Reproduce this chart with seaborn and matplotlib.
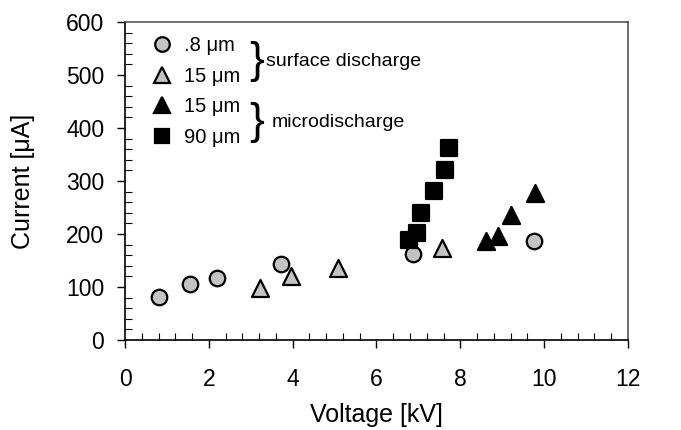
import numpy as np
import pandas as pd
import seaborn as sns
from matplotlib import pyplot as plt
from matplotlib.lines import Line2D
from matplotlib.ticker import MultipleLocator

sns.set_style('ticks')
plt.rcParams['font.family'] = ['Liberation Sans', 'DejaVu Sans']
plt.rcParams['text.color'] = 'black'
plt.rcParams['axes.labelcolor'] = 'black'

# surface discharge, .8 um
v_08 = [0.82, 1.55, 2.19, 3.72, 6.88, 9.77]
i_08 = [82, 106, 117, 144, 163, 186]
# surface discharge, 15 um
v_15s = [3.21, 3.96, 5.09, 7.57]
i_15s = [98, 120, 136, 174]
# microdischarge, 15 um
v_15m = [8.62, 8.89, 9.20, 9.79]
i_15m = [186, 197, 235, 278]
# microdischarge, 90 um
v_90 = [6.77, 6.96, 7.06, 7.37, 7.64, 7.74]
i_90 = [189, 202, 240, 282, 320, 363]

labels = ['.8 \u03bcm', '15 \u03bcm', '15 \u03bcm', '90 \u03bcm']
gray = '#c3c3c3'

fig = plt.figure(figsize=(6.81, 4.30), dpi=100)
ax = fig.add_axes([0.1836, 0.2093, 0.7384, 0.7395])

series = [
    (v_08, i_08, 'o', gray, 125),
    (v_15s, i_15s, '^', gray, 150),
    (v_15m, i_15m, '^', 'black', 150),
    (v_90, i_90, 's', 'black', 120),
]
for x, y, m, c, s in series:
    sns.scatterplot(x=x, y=y, marker=m, color=c, edgecolor='black',
                    linewidth=1.6, s=s, ax=ax, zorder=3)

ax.set_xlim(0, 12)
ax.set_ylim(0, 600)
ax.xaxis.set_major_locator(MultipleLocator(2))
ax.xaxis.set_minor_locator(MultipleLocator(0.4))
ax.yaxis.set_major_locator(MultipleLocator(100))
ax.yaxis.set_minor_locator(MultipleLocator(20))
ax.tick_params(which='major', direction='out', length=6, width=1, labelsize=16.5,
               colors='black', labelcolor='black')
ax.tick_params(axis='x', which='major', pad=14)
ax.tick_params(axis='y', which='major', pad=9)
ax.tick_params(which='minor', direction='in', length=5, width=0.8, colors='black')
for sp in ax.spines.values():
    sp.set_color('#555555')
    sp.set_linewidth(1.2)
ax.spines['left'].set_color('black')
ax.spines['bottom'].set_color('black')

ax.set_xlabel('Voltage [kV]', fontsize=18, labelpad=9)
ax.set_ylabel('Current [\u03bcA]', fontsize=18, labelpad=22)

handles = [
    Line2D([], [], ls='', marker='o', ms=10.5, mfc=gray, mec='black', mew=1.6),
    Line2D([], [], ls='', marker='^', ms=11.5, mfc=gray, mec='black', mew=1.6),
    Line2D([], [], ls='', marker='^', ms=11.5, mfc='black', mec='black', mew=1.6),
    Line2D([], [], ls='', marker='s', ms=10.5, mfc='black', mec='black', mew=1.6),
]
leg = ax.legend(handles, labels, loc='upper left', bbox_to_anchor=(0.025, 1.0),
                frameon=False, fontsize=14.5, handlelength=1.0, handletextpad=0.6,
                labelspacing=0.58, borderaxespad=0.3)
for t in leg.get_texts():
    t.set_color('black')

ax.text(0.248, 0.876, '}', transform=ax.transAxes, fontsize=32, va='center', ha='left')
ax.text(0.281, 0.876, 'surface discharge', transform=ax.transAxes, fontsize=14, va='center')
ax.text(0.248, 0.684, '}', transform=ax.transAxes, fontsize=32, va='center', ha='left')
ax.text(0.292, 0.684, 'microdischarge', transform=ax.transAxes, fontsize=14, va='center')

fig.savefig('out.png', dpi=100)
